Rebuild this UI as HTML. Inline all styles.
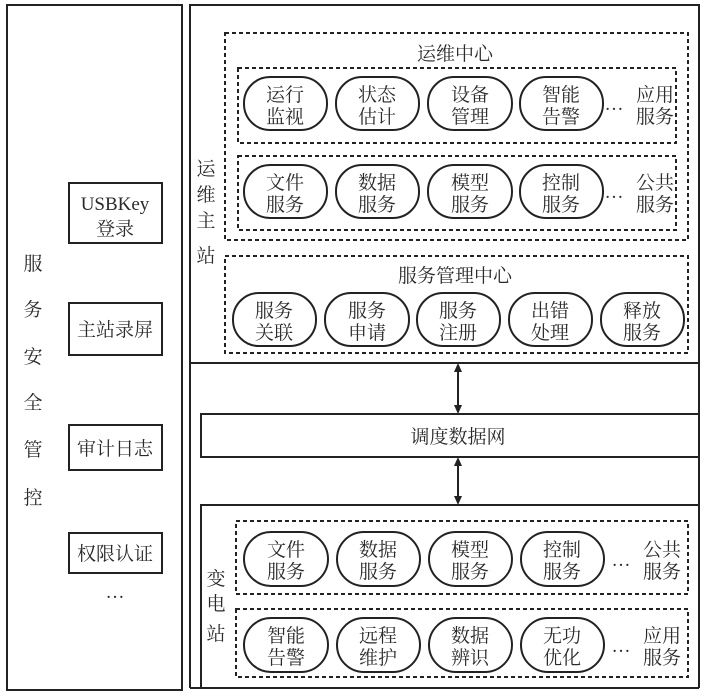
<!DOCTYPE html>
<html><head><meta charset="utf-8"><style>
html,body{margin:0;padding:0;background:#fff;}
svg{display:block;}
text{font-family:"Liberation Serif","Noto Serif CJK SC","Noto Sans CJK SC",serif;fill:#2a2a2a;}
</style></head><body>
<svg width="706" height="698" viewBox="0 0 706 698" xmlns="http://www.w3.org/2000/svg">
<g fill="none" stroke="#222" stroke-width="2">
<rect x="7" y="5" width="175" height="685"/>
<rect x="69" y="183" width="93" height="60"/>
<rect x="69" y="303" width="93" height="52"/>
<rect x="69" y="425" width="93" height="45"/>
<rect x="69" y="533" width="93" height="40"/>
<line x1="190" y1="5" x2="190" y2="688"/>
<rect x="190" y="5" width="509" height="358"/>
<rect x="201" y="414" width="498" height="43"/>
<polyline points="201,688 201,505 699,505 699,688"/>
<line x1="190" y1="688" x2="699" y2="688"/>
<line x1="699" y1="363" x2="699" y2="505"/>
<line x1="458" y1="368" x2="458" y2="409"/>
<line x1="458" y1="462" x2="458" y2="500"/>
</g>
<g fill="#222">
<polygon points="458,363 454,372 462,372"/><polygon points="458,414 454,405 462,405"/>
<polygon points="458,457 454,466 462,466"/><polygon points="458,505 454,496 462,496"/>
</g>
<g fill="none" stroke="#222" stroke-width="2" stroke-dasharray="4,3">
<rect x="225" y="33" width="463" height="207"/>
<rect x="238" y="68" width="438" height="75"/>
<rect x="238" y="156" width="438" height="74"/>
<rect x="225" y="256" width="463" height="97"/>
<rect x="236" y="521" width="452" height="73"/>
<rect x="236" y="609" width="452" height="68"/>
</g>
<g fill="none" stroke="#222" stroke-width="2">
<rect x="244" y="77" width="83" height="53" rx="26"/>
<rect x="336" y="77" width="83" height="53" rx="26"/>
<rect x="428" y="77" width="84" height="53" rx="26"/>
<rect x="520" y="77" width="83" height="53" rx="26"/>
<rect x="244" y="165" width="83" height="53" rx="26"/>
<rect x="336" y="165" width="83" height="53" rx="26"/>
<rect x="428" y="165" width="84" height="53" rx="26"/>
<rect x="520" y="165" width="83" height="53" rx="26"/>
<rect x="233" y="293" width="83" height="53" rx="26"/>
<rect x="325" y="293" width="84" height="53" rx="26"/>
<rect x="417" y="293" width="83" height="53" rx="26"/>
<rect x="509" y="293" width="83" height="53" rx="26"/>
<rect x="601" y="293" width="83" height="53" rx="26"/>
<rect x="244" y="532" width="84" height="54" rx="27"/>
<rect x="337" y="532" width="83" height="54" rx="27"/>
<rect x="429" y="532" width="83" height="54" rx="27"/>
<rect x="521" y="532" width="83" height="54" rx="27"/>
<rect x="244" y="618" width="84" height="54" rx="27"/>
<rect x="337" y="618" width="83" height="54" rx="27"/>
<rect x="429" y="618" width="83" height="54" rx="27"/>
<rect x="521" y="618" width="83" height="54" rx="27"/>
</g>
<g font-size="19" text-anchor="middle">
<text x="33" y="270">服</text><text x="33" y="316">务</text><text x="33" y="363">安</text>
<text x="33" y="409">全</text><text x="33" y="456">管</text><text x="33" y="504">控</text>
<text x="115" y="210" font-size="19">USBKey</text><text x="115" y="235">登录</text>
<text x="115" y="336">主站录屏</text><text x="115" y="455">审计日志</text><text x="115" y="560">权限认证</text>
<text x="115" y="598">…</text>
<text x="206" y="175">运</text><text x="206" y="201">维</text><text x="206" y="227">主</text><text x="206" y="262">站</text>
<text x="216" y="585">变</text><text x="216" y="610">电</text><text x="216" y="640">站</text>
<text x="455" y="60">运维中心</text>
<text x="455" y="282">服务管理中心</text>
<text x="458" y="443">调度数据网</text>
<text x="285" y="101">运行</text><text x="285" y="123">监视</text>
<text x="377" y="101">状态</text><text x="377" y="123">估计</text>
<text x="470" y="101">设备</text><text x="470" y="123">管理</text>
<text x="561" y="101">智能</text><text x="561" y="123">告警</text>
<text x="614" y="110">…</text><text x="655" y="101">应用</text><text x="655" y="123">服务</text>
<text x="285" y="189">文件</text><text x="285" y="211">服务</text>
<text x="377" y="189">数据</text><text x="377" y="211">服务</text>
<text x="470" y="189">模型</text><text x="470" y="211">服务</text>
<text x="561" y="189">控制</text><text x="561" y="211">服务</text>
<text x="614" y="198">…</text><text x="655" y="189">公共</text><text x="655" y="211">服务</text>
<text x="274" y="317">服务</text><text x="274" y="339">关联</text>
<text x="367" y="317">服务</text><text x="367" y="339">申请</text>
<text x="458" y="317">服务</text><text x="458" y="339">注册</text>
<text x="550" y="317">出错</text><text x="550" y="339">处理</text>
<text x="642" y="317">释放</text><text x="642" y="339">服务</text>
<text x="286" y="556">文件</text><text x="286" y="578">服务</text>
<text x="378" y="556">数据</text><text x="378" y="578">服务</text>
<text x="470" y="556">模型</text><text x="470" y="578">服务</text>
<text x="562" y="556">控制</text><text x="562" y="578">服务</text>
<text x="621" y="566">…</text><text x="662" y="556">公共</text><text x="662" y="578">服务</text>
<text x="286" y="642">智能</text><text x="286" y="664">告警</text>
<text x="378" y="642">远程</text><text x="378" y="664">维护</text>
<text x="470" y="642">数据</text><text x="470" y="664">辨识</text>
<text x="562" y="642">无功</text><text x="562" y="664">优化</text>
<text x="621" y="652">…</text><text x="662" y="642">应用</text><text x="662" y="664">服务</text>
</g>
</svg>
</body></html>
